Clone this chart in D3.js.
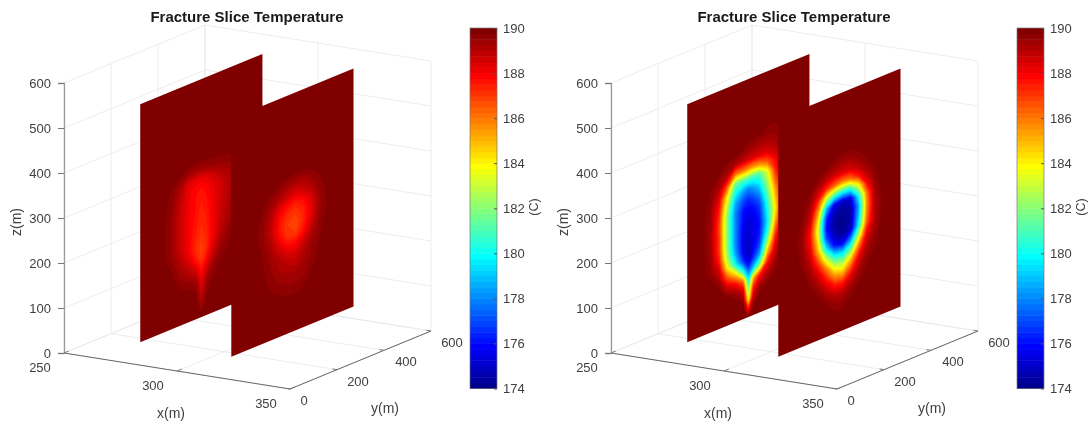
<!DOCTYPE html>
<html>
<head>
<meta charset="utf-8">
<script src="https://cdn.jsdelivr.net/npm/d3@7"></script>
<style>
  html, body { margin: 0; padding: 0; background: #fff; }
  svg { display: block; filter: blur(0.55px); }
  text { font-family: "Liberation Sans", Helvetica, Arial, sans-serif; fill: #404040; }
</style>
</head>
<body>
<div id="chart"></div>
<script>
const xTicks = [250, 300, 350];
const yTicks = [0, 200, 400, 600];
const zTicks = [0, 100, 200, 300, 400, 500, 600];
const colorTicks = [174, 176, 178, 180, 182, 184, 186, 188, 190];

// Fracture planes (m)
const fractureX = [280.3, 320.6];
const fractureY = [33, 553];
const fractureZ = [41, 570];

// Temperature sample positions on the planes (m)
const zNodes = [437, 414, 392, 370, 348, 326, 303, 281, 259, 237, 214, 192, 170, 148, 125, 103, 81, 59, 41];
const yNodesA = [67, 101, 135, 169, 203, 238, 272, 293, 314, 340, 374, 408, 442];
const yNodesB = [101, 135, 169, 203, 238, 272, 306, 340, 374, 408, 442, 476];

// Left figure, first fracture (C), rows follow zNodes, columns yNodesA
const earlyA = [
  [190,190,190,190,190,190,190,190,190,190,190,190,190],
  [190,190,190,190,190,190,190,190,190,190,190,190,190],
  [190,190,190,190,190,189.9,189.85,189.85,189.85,189.9,189.9,189.9,190],
  [190,190,190,189.95,189.75,189.4,189.3,189.3,189.4,189.5,189.55,189.6,189.8],
  [190,190,190,189.7,189.2,188.4,188.1,188.1,188.2,188.6,189,189.3,189.7],
  [190,190,189.9,189.6,189,188.1,187.8,187.7,187.9,188.2,188.6,189.1,189.6],
  [190,190,189.9,189.5,188.8,188.1,187.7,187.5,187.7,188.1,188.6,189,189.6],
  [190,190,189.8,189.4,188.7,188.1,187.7,187.4,187.6,188,188.6,189.1,189.7],
  [190,190,189.8,189.4,188.7,188,187.6,187.3,187.5,188,188.7,189.2,189.7],
  [190,190,189.8,189.4,188.7,188,187.5,187.2,187.4,188,188.8,189.3,189.8],
  [190,190,189.8,189.4,188.7,188,187.3,187,187.3,188,189,189.5,189.9],
  [190,190,189.9,189.5,188.9,188.1,187.2,186.9,187.3,188.3,189.3,189.7,190],
  [190,190,190,189.7,189.2,188.6,187.6,187,187.7,188.8,189.6,189.8,190],
  [190,190,190,189.9,189.4,189.1,188.5,187.7,188.5,189.4,189.8,190,190],
  [190,190,190,190,189.7,189.6,189.3,188.1,189.2,189.7,190,190,190],
  [190,190,190,190,190,189.9,189.7,188.5,189.6,189.9,190,190,190],
  [190,190,190,190,190,190,189.9,189,189.8,190,190,190,190],
  [190,190,190,190,190,190,190,189.6,189.95,190,190,190,190],
  [190,190,190,190,190,190,190,190,190,190,190,190,190]
];

// Left figure, second fracture (C), rows follow zNodes, columns yNodesB
const earlyB = [
  [190,190,190,190,190,190,190,190,190,190,190,190],
  [190,190,190,190,190,189.95,189.95,190,190,190,190,190],
  [190,190,190,190,189.95,189.9,189.8,189.8,189.9,190,190,190],
  [190,190,190,189.85,189.6,189.3,189.2,189.2,189.5,189.8,190,190],
  [190,190,189.8,189.5,189.1,188.8,188.4,188.7,189.1,189.6,189.9,190],
  [190,190,189.7,189.2,188.3,187.8,187.5,187.8,188.5,189.5,189.85,190],
  [190,189.9,189.6,188.9,187.8,187.2,187,187.4,188.3,189.4,189.8,190],
  [190,189.9,189.5,188.8,187.6,187,186.8,187.4,188.4,189.5,189.85,190],
  [190,189.9,189.6,189,187.9,187.1,187,187.7,188.8,189.6,189.9,190],
  [190,190,189.7,189.2,188.5,187.8,187.8,188.5,189.2,189.7,190,190],
  [190,190,189.75,189.4,189,188.6,188.5,189,189.5,189.8,190,190],
  [190,190,189.8,189.5,189.2,189,188.9,189.2,189.6,189.85,190,190],
  [190,190,189.85,189.6,189.4,189.3,189.3,189.4,189.7,190,190,190],
  [190,190,190,189.75,189.6,189.5,189.5,189.6,189.85,190,190,190],
  [190,190,190,190,189.85,189.75,189.75,189.85,190,190,190,190],
  [190,190,190,190,190,190,190,190,190,190,190,190],
  [190,190,190,190,190,190,190,190,190,190,190,190],
  [190,190,190,190,190,190,190,190,190,190,190,190],
  [190,190,190,190,190,190,190,190,190,190,190,190]
];

// Right figure, first fracture (C)
const lateA = [
  [190,190,190,190,190,190,190,189.9,189.9,189.8,189.7,189.7,189.8],
  [190,190,190,190,190,189.9,189.7,189.4,189.3,189.2,189.1,189.3,189.7],
  [190,190,190,190,189.6,189.2,188.8,188.6,188.5,188.4,188.4,188.9,189.5],
  [190,190,189.9,189.5,188.9,186,185.8,185.5,185.3,185.5,186.5,188,189.2],
  [190,190,189.7,189,186.5,181.5,181,181,180.8,181,183.5,187.5,189],
  [190,189.9,189.5,188.2,184,180,178.5,178,178.5,179.5,182.5,186.5,188.8],
  [190,189.9,189.4,187.5,182.8,178.5,177,176.5,177,178,181.5,185.5,188.6],
  [190,189.9,189.3,187,182,178,176,175.8,176,176.8,180.5,184.8,188.5],
  [190,189.9,189.2,186.8,182,178,175.8,175.4,175.6,176.3,180,184.2,188.6],
  [190,189.9,189.2,187,182,178,175.6,175.2,175.5,176,179.6,185,189],
  [190,189.9,189.3,187,182,178,175.5,175,175.5,176.3,180.5,186.5,189.3],
  [190,189.9,189.4,187.5,182.5,178.5,175.5,174.8,175.7,177,182.5,187.8,189.5],
  [190,189.9,189.5,188.5,184,180,176.5,175,176.5,178.5,185,188.7,189.7],
  [190,190,189.9,189.3,186.5,184.5,180,177,179,182,187.5,189.3,189.9],
  [190,190,190,190,188.7,188,186,180,185,187.5,189,189.7,190],
  [190,190,190,190,189.9,189.5,188.5,182,187.5,189.2,189.7,190,190],
  [190,190,190,190,190,190,189.6,184,189,189.9,190,190,190],
  [190,190,190,190,190,190,190,187.8,189.8,190,190,190,190],
  [190,190,190,190,190,190,190,189.8,190,190,190,190,190]
];

// Right figure, second fracture (C)
const lateB = [
  [190,190,190,190,190,189.9,189.8,189.8,189.9,190,190,190],
  [190,190,190,190,189.8,189.5,189.3,189.3,189.6,189.9,190,190],
  [190,190,190,189.6,189,188.6,188.4,188.5,189,189.6,189.9,190],
  [190,190,189.7,188.8,187.3,186.3,185.5,186,187.5,189,189.7,190],
  [190,189.9,189.4,187.3,183.3,181,180,180.3,183.5,187.8,189.5,190],
  [190,189.8,189,185.5,179,175.5,174.8,175.2,180,186,189.3,189.9],
  [190,189.6,188.3,184,176.5,174.5,174.2,174.5,178.5,185.5,189.1,189.8],
  [189.9,189.5,187.8,183.3,176,174.3,174.1,174.5,179,185.8,189.1,189.9],
  [190,189.5,188,184,177,174.8,174.2,175,180,186.5,189.2,189.9],
  [190,189.6,188.5,185,179.5,176,175.3,178,183,188,189.4,190],
  [190,189.7,189,186.8,183,180,179.5,181.5,186,189,189.6,190],
  [190,190,189.4,188.2,185.8,183,182.5,184.8,188,189.4,189.8,190],
  [190,190,189.7,189,187.5,185.5,185,187,189,189.7,190,190],
  [190,190,190,189.6,188.7,187.6,187.5,188.7,189.5,189.9,190,190],
  [190,190,190,189.9,189.5,189,189,189.5,189.8,190,190,190],
  [190,190,190,190,189.9,189.6,189.6,189.8,190,190,190,190],
  [190,190,190,190,190,189.9,189.8,190,190,190,190,190],
  [190,190,190,190,190,190,189.95,190,190,190,190,190],
  [190,190,190,190,190,190,190,190,190,190,190,190]
];

const panels = [
  { offset: 0, planes: [earlyA, earlyB] },
  { offset: 547, planes: [lateA, lateB] }
];
const planeNodes = [yNodesA, yNodesB];

const width = 1089;
const height = 426;

// Projected axes, MATLAB 3D view
const xH = d3.scaleLinear().domain([250, 350]).range([0, 226]);
const xV = d3.scaleLinear().domain([250, 350]).range([0, 36]);
const yH = d3.scaleLinear().domain([0, 600]).range([0, 141]);
const yV = d3.scaleLinear().domain([0, 600]).range([0, -58]);
const zV = d3.scaleLinear().domain([0, 600]).range([353, 83]);
const originX = 64;
const project = (x, y, z) => [originX + xH(x) + yH(y), zV(z) + xV(x) + yV(y)];

// jet colormap, 64 levels
function jet(t) {
  const f = (v) => Math.round(255 * Math.max(0, Math.min(1, 1.5 - Math.abs(4 * t - v))));
  return `rgb(${f(3)},${f(2)},${f(1)})`;
}
const nLevels = 64;
const levelColors = d3.range(nLevels).map((i) => jet((i + 1) / nLevels));
const colorScale = d3.scaleQuantize().domain([174, 190]).range(levelColors);
const levelStep = (190 - 174) / nLevels;

const svg = d3
  .select("#chart")
  .append("svg")
  .attr("width", width)
  .attr("height", height);

const line = d3.line();

panels.forEach((panel) => {
  const g = svg.append("g").attr("transform", `translate(${panel.offset},0)`);

  // Grid lines on the back walls and floor
  const gridSegments = [];
  zTicks.forEach((z) => {
    gridSegments.push([project(250, 0, z), project(250, 600, z), project(350, 600, z)]);
  });
  xTicks.forEach((x) => {
    gridSegments.push([project(x, 0, 0), project(x, 600, 0), project(x, 600, 600)]);
  });
  yTicks.forEach((y) => {
    gridSegments.push([project(250, y, 600), project(250, y, 0), project(350, y, 0)]);
  });
  g.append("g")
    .selectAll("path")
    .data(gridSegments)
    .join("path")
    .attr("d", line)
    .attr("fill", "none")
    .attr("stroke", "#e8e8e8")
    .attr("stroke-width", 0.8);

  // Fracture planes, back to front
  panel.planes.forEach((temps, p) => {
    const x = fractureX[p];
    const corners = [
      project(x, fractureY[0], fractureZ[0]),
      project(x, fractureY[1], fractureZ[0]),
      project(x, fractureY[1], fractureZ[1]),
      project(x, fractureY[0], fractureZ[1])
    ];
    g.append("path")
      .attr("d", line(corners) + "Z")
      .attr("fill", colorScale(189.99));

    const nodes = planeNodes[p];
    const colScale = d3.scaleLinear().domain(d3.range(nodes.length)).range(nodes);
    const rowScale = d3.scaleLinear().domain(d3.range(zNodes.length)).range(zNodes);
    const path = d3.geoPath(
      d3.geoTransform({
        point(cx, cy) {
          const q = project(x, colScale(cx - 0.5), rowScale(cy - 0.5));
          this.stream.point(q[0], q[1]);
        }
      })
    );

    // Colder bands paint over warmer ones
    const values = temps.flat().map((v) => -v);
    const contours = d3.contours().size([nodes.length, zNodes.length]);
    d3.range(1, nLevels).forEach((k) => {
      const edge = 190 - k * levelStep;
      const shape = contours.contour(values, -edge);
      if (!shape.coordinates.length) return;
      g.append("path")
        .attr("d", path(shape))
        .attr("fill", colorScale(edge - levelStep / 2));
    });
  });

  // Axis lines
  g.append("path")
    .attr("d", line([project(250, 0, 0), project(350, 0, 0), project(350, 600, 0)]))
    .attr("fill", "none")
    .attr("stroke", "#666")
    .attr("stroke-width", 1);

  const zAxis = d3.axisLeft(zV).tickValues(zTicks).tickSize(6).tickPadding(7).tickFormat(d3.format("d"));
  const zg = g.append("g").attr("class", "axis").attr("transform", `translate(${originX},0)`).call(zAxis);
  zg.select(".domain").attr("stroke", "#999").attr("stroke-width", 1.3);
  zg.selectAll(".tick line").attr("stroke", "#777");
  zg.selectAll("text").attr("font-size", 13).style("font-family", null);

  // x ticks run along y, y ticks run along x
  const xTickLines = xTicks.map((x) => [project(x, 0, 0), project(x, 20, 0)]);
  const yTickLines = yTicks.map((y) => [project(350, y, 0), project(348, y, 0)]);
  g.append("g")
    .selectAll("path")
    .data(xTickLines.concat(yTickLines))
    .join("path")
    .attr("d", line)
    .attr("fill", "none")
    .attr("stroke", "#777");

  const xLabelPos = { 250: [40, 371.5], 300: [153, 389.5], 350: [266, 407.5] };
  g.selectAll(".xlab")
    .data(xTicks)
    .join("text")
    .attr("class", "xlab")
    .attr("x", (d) => xLabelPos[d][0])
    .attr("y", (d) => xLabelPos[d][1])
    .attr("text-anchor", "middle")
    .attr("font-size", 13)
    .text((d) => d);

  const yLabelPos = { 0: [304, 404.5], 200: [358, 385.5], 400: [406, 365.5], 600: [452, 346.5] };
  g.selectAll(".ylab")
    .data(yTicks)
    .join("text")
    .attr("class", "ylab")
    .attr("x", (d) => yLabelPos[d][0])
    .attr("y", (d) => yLabelPos[d][1])
    .attr("text-anchor", "middle")
    .attr("font-size", 13)
    .text((d) => d);

  g.append("text")
    .attr("x", 171)
    .attr("y", 418)
    .attr("text-anchor", "middle")
    .attr("font-size", 14)
    .text("x(m)");
  g.append("text")
    .attr("x", 385)
    .attr("y", 413)
    .attr("text-anchor", "middle")
    .attr("font-size", 14)
    .text("y(m)");
  g.append("text")
    .attr("transform", "translate(21,222) rotate(-90)")
    .attr("text-anchor", "middle")
    .attr("font-size", 14)
    .text("z(m)");

  g.append("text")
    .attr("x", 247)
    .attr("y", 22)
    .attr("text-anchor", "middle")
    .attr("font-size", 15)
    .attr("font-weight", "bold")
    .style("fill", "#1a1a1a")
    .text("Fracture Slice Temperature");

  // Colorbar
  const barScale = d3.scaleLinear().domain([174, 190]).range([388.5, 28]);
  const bar = g.append("g").attr("transform", "translate(470,0)");
  bar
    .selectAll("rect")
    .data(levelColors)
    .join("rect")
    .attr("x", 0)
    .attr("y", (d, i) => barScale(174 + (i + 1) * levelStep))
    .attr("width", 27)
    .attr("height", (d, i) => barScale(174 + i * levelStep) - barScale(174 + (i + 1) * levelStep) + 0.5)
    .attr("fill", (d) => d);
  bar
    .append("rect")
    .attr("y", 28)
    .attr("width", 27)
    .attr("height", 360.5)
    .attr("fill", "none")
    .attr("stroke", "#777")
    .attr("stroke-width", 0.7);

  const barAxis = d3.axisRight(barScale).tickValues(colorTicks).tickSize(-3).tickPadding(6).tickFormat(d3.format("d"));
  const bg = g.append("g").attr("class", "axis").attr("transform", "translate(497,0)").call(barAxis);
  bg.select(".domain").remove();
  bg.selectAll(".tick line").attr("stroke", "#555");
  bg.selectAll("text").attr("font-size", 13).style("font-family", null);

  g.append("text")
    .attr("transform", "translate(538,207) rotate(-90)")
    .attr("text-anchor", "middle")
    .attr("font-size", 12.5)
    .text("(C)");
});
</script>
</body>
</html>
